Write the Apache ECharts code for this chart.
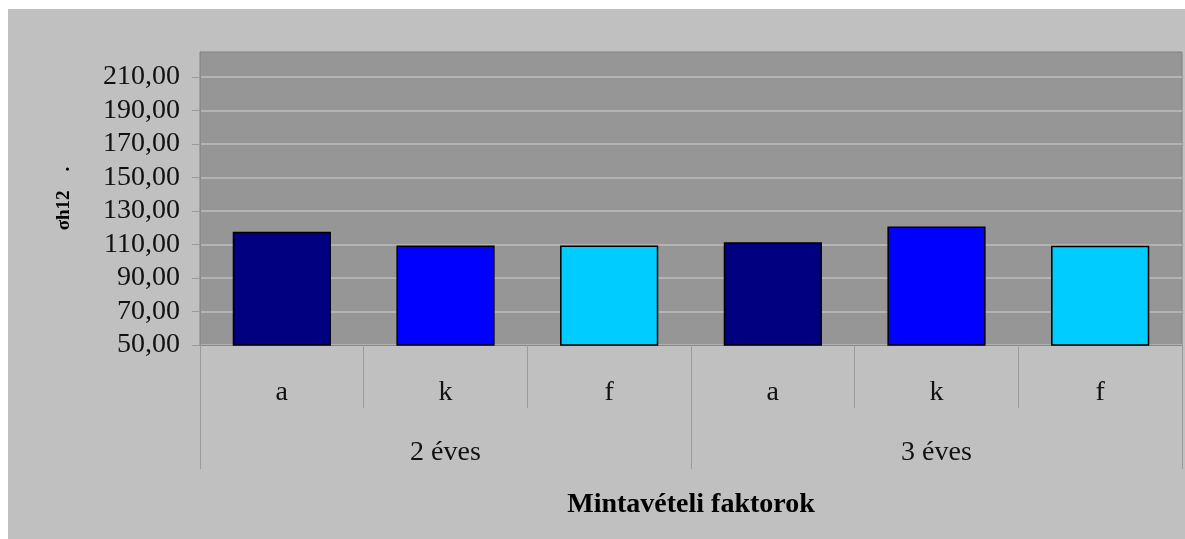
<!DOCTYPE html>
<html>
<head>
<meta charset="utf-8">
<script src="https://cdn.jsdelivr.net/npm/echarts@6/dist/echarts.min.js"></script>
<style>
  html, body { margin: 0; padding: 0; background: #ffffff; }
  #myChart { position: absolute; left: 8px; top: 9px; width: 1177px; height: 530px; background: #c0c0c0; }
</style>
</head>
<body>
<div id="myChart"></div>
<script>
// adatok
var categories = ["a", "k", "f", "a", "k", "f"];
var groups = ["2 éves", "3 éves"];
var values = [117.7, 109.4, 109.4, 111.3, 120.8, 109.3];
var yTicks = [50, 70, 90, 110, 130, 150, 170, 190, 210];

var colors = ["#000080", "#0000ff", "#00ccff"];
var serif = "Liberation Serif";

var myChart = echarts.init(document.getElementById("myChart"));

var barData = [];
for (let i = 0; i < values.length; i++) {
  barData.push({
    value: values[i],
    itemStyle: { color: colors[i % 3] }
  });
}

var option = {
  animation: false,
  grid: {
    left: 192,
    top: 43,
    right: 3,
    bottom: 194,
    show: true,
    backgroundColor: "#969696",
    borderColor: "#808080",
    borderWidth: 1
  },
  xAxis: [
    {
      type: "category",
      data: categories,
      position: "bottom",
      axisLine: { show: true, lineStyle: { color: "#8a8a8a", width: 1 } },
      axisTick: { show: true, interval: 0, length: 63, lineStyle: { color: "#9a9a9a" } },
      axisLabel: {
        interval: 0,
        margin: 34,
        color: "#111",
        fontFamily: serif,
        fontSize: 28
      }
    },
    {
      type: "category",
      data: groups,
      position: "bottom",
      axisLine: { show: false },
      axisTick: { show: true, interval: 0, length: 124, lineStyle: { color: "#9a9a9a" } },
      axisLabel: {
        interval: 0,
        margin: 94,
        color: "#111",
        fontFamily: serif,
        fontSize: 28
      },
      name: "Mintavételi faktorok",
      nameLocation: "middle",
      nameGap: 146,
      nameTextStyle: {
        color: "#000",
        fontFamily: serif,
        fontSize: 28,
        fontWeight: "bold"
      }
    }
  ],
  yAxis: {
    type: "value",
    min: 50,
    max: 225,
    interval: 20,
    name: "σh12    .",
    nameLocation: "middle",
    nameRotate: 90,
    nameGap: 126,
    nameTextStyle: {
      color: "#000",
      fontFamily: serif,
      fontSize: 19,
      fontWeight: "bold"
    },
    axisLine: { show: true, lineStyle: { color: "#8a8a8a" } },
    axisTick: { show: true, length: 8, customValues: yTicks, lineStyle: { color: "#9a9a9a" } },
    axisLabel: {
      customValues: yTicks,
      margin: 20,
      padding: [5, 0, 0, 0],
      color: "#111",
      fontFamily: serif,
      fontSize: 28,
      formatter: function(v) {
        return v.toFixed(2).replace(".", ",");
      }
    },
    splitLine: { lineStyle: { color: "#bcbcbc", width: 1.5 } }
  },
  series: [
    {
      type: "bar",
      xAxisIndex: 0,
      barWidth: "60%",
      data: barData,
      itemStyle: { borderColor: "#000000", borderWidth: 1.5 }
    }
  ]
};
myChart.setOption(option);
</script>
</body>
</html>
